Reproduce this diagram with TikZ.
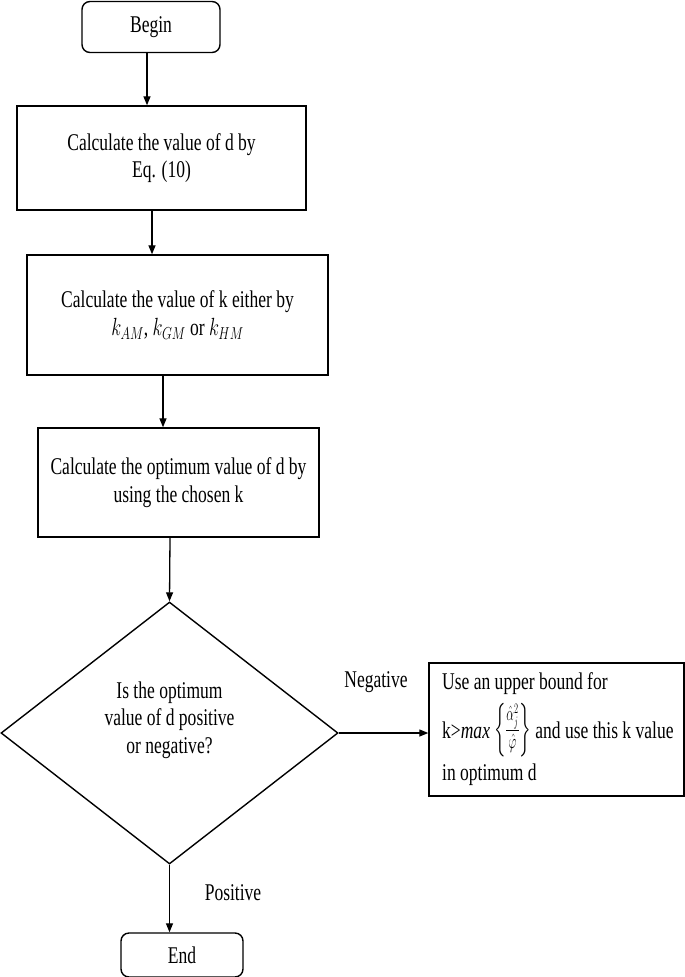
\documentclass[tikz,border=0pt]{standalone}
\usepackage{amsmath}
\usepackage{graphicx}
\usepackage{fontspec}
\setmainfont[FakeStretch=0.73]{Liberation Serif}
\usetikzlibrary{shapes.geometric,arrows.meta}
\newcommand{\narrowmath}[1]{\scalebox{0.74}[1]{$#1$}}
\begin{document}
\begin{tikzpicture}[x=1pt,y=-1pt,
  every node/.style={font=\fontsize{24}{27.5}\selectfont},
  arr/.style={line width=1.3pt,-{Triangle[length=9pt,width=7pt]}},
  term/.style={draw,line width=1.4pt,rounded corners=8pt,inner sep=0pt},
  proc/.style={draw,line width=1.4pt,inner sep=0pt,align=center},
  lbl/.style={inner sep=0pt}]
\useasboundingbox (0,0) rectangle (685,977);
\node[term,minimum width=138pt,minimum height=51pt] (begin) at (151,27) {Begin};
\node[proc,minimum width=289pt,minimum height=104pt] (b2) at (161.5,158) {Calculate the value of d by\\Eq. (10)};
\node[proc,minimum width=301pt,minimum height=120pt] (b3) at (177.5,315) {Calculate the value of k either by\\\narrowmath{k_{AM}}, \narrowmath{k_{GM}} or \narrowmath{k_{HM}}};
\node[proc,minimum width=281pt,minimum height=109pt] (b4) at (178.5,482.5) {Calculate the optimum value of d by\\using the chosen k};
\node[draw,line width=1.4pt,diamond,shape aspect=1.286,minimum width=337pt,minimum height=262pt,inner sep=0pt] (dia) at (169.5,733) {};
\node[lbl,align=center] (dtext) at (169.5,720) {Is the optimum\\value of d positive\\or negative?};
\node[draw,line width=1.4pt,minimum width=255pt,minimum height=133pt,inner sep=0pt] (rb) at (556.5,729.5) {};
\node[lbl,align=left,anchor=west] (rtext) at (442,729) {Use an upper bound for\\[8pt]k>\textit{max}\,\scalebox{0.7}[1.2]{$\left\{\frac{\hat{\alpha}_j^2}{\hat{\varphi}}\right\}$} and use this k value\\[5pt]in optimum d};
\node[term,minimum width=122pt,minimum height=44pt] (end) at (182,955) {End};
\node[lbl] (neg) at (376,682) {Negative};
\node[lbl] (pos) at (233,893) {Positive};
\draw[arr] ([xshift=-4pt]begin.south) -- ([xshift=-4pt]begin.south |- b2.north);
\draw[arr] ([xshift=-9.5pt]b2.south) -- ([xshift=-9.5pt]b2.south |- b3.north);
\draw[arr] ([xshift=-14.5pt]b3.south) -- ([xshift=-14.5pt]b3.south |- b4.north);
\draw[arr] ([xshift=-8.5pt]b4.south) -- (dia.north);
\draw[arr] (dia.east) -- (dia.east -| rb.west);
\draw[arr] (dia.south) -- (dia.south |- end.north);
\end{tikzpicture}
\end{document}
